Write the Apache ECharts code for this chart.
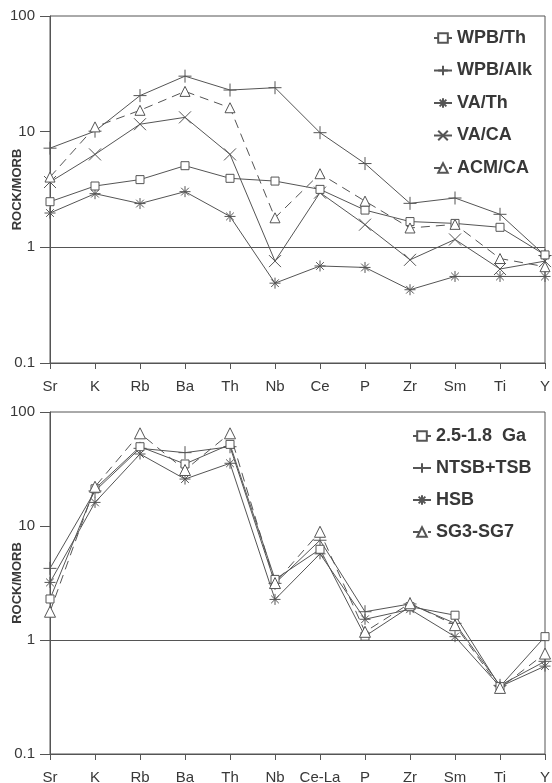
<!DOCTYPE html>
<html>
<head>
<meta charset="utf-8">
<script src="https://cdn.jsdelivr.net/npm/echarts@6/dist/echarts.min.js"></script>
<style>
  html, body { margin: 0; padding: 0; background: #fff; }
  #chart { width: 552px; height: 783px; }
</style>
</head>
<body>
<div id="chart"></div>
<script>
// Element order along each spider diagram (normalised to MORB)
const topElements = ['Sr', 'K', 'Rb', 'Ba', 'Th', 'Nb', 'Ce', 'P', 'Zr', 'Sm', 'Ti', 'Y'];
const bottomElements = ['Sr', 'K', 'Rb', 'Ba', 'Th', 'Nb', 'Ce-La', 'P', 'Zr', 'Sm', 'Ti', 'Y'];
const yTickLabels = ['0.1', '1', '10', '100'];

// Upper panel: reference basalt types
const wpbTh  = [2.48, 3.39, 3.85, 5.08, 3.95, 3.74, 3.17, 2.10, 1.67, 1.61, 1.49, 0.86];
const wpbAlk = [7.2, 10.1, 20.5, 30.2, 22.9, 24.0, 9.8, 5.3, 2.4, 2.67, 1.93, 0.85];
const vaTh   = [1.98, 2.91, 2.39, 3.03, 1.85, 0.49, 0.69, 0.67, 0.43, 0.56, 0.56, 0.56];
const vaCa   = [3.67, 6.36, 11.6, 13.3, 6.36, 0.76, 2.97, 1.57, 0.78, 1.17, 0.65, 0.76];
const acmCa  = [4.05, 11.0, 15.3, 22.3, 16.1, 1.80, 4.33, 2.51, 1.47, 1.58, 0.80, 0.68];

// Lower panel: studied groups
const ga2518  = [2.29, 21.2, 49.6, 35.0, 52.0, 3.40, 6.25, 1.08, 1.96, 1.65, 0.39, 1.07];
const ntsbTsb = [4.25, 20.3, 48.0, 44.0, 49.6, 3.14, 7.5, 1.77, 2.07, 1.40, 0.40, 0.65];
const hsb     = [3.2, 16.1, 42.8, 25.8, 35.5, 2.27, 5.7, 1.52, 1.86, 1.07, 0.39, 0.59];
const sg3sg7  = [1.77, 22.1, 65.0, 31.0, 65.0, 3.16, 8.9, 1.18, 2.10, 1.35, 0.38, 0.76];

const INK = '#555555';
const TEXT = '#383838';
const FONT = 'Liberation Sans, Arial, sans-serif';

// Open-stroke marker paths
const plusPath = 'path://M5,0L5,10M0,5L10,5';
const starPath = 'path://M5,0L5,10M0,5L10,5M1.5,1.5L8.5,8.5M1.5,8.5L8.5,1.5';
const crossPath = 'path://M0,2L10,8M0,8L10,2';

function lineSeries(name, data, idx, symbol, size, dashed, filled) {
  return {
    name: name,
    type: 'line',
    xAxisIndex: idx,
    yAxisIndex: idx,
    data: data,
    symbol: symbol,
    symbolSize: size,
    showAllSymbol: true,
    animation: false,
    lineStyle: { color: INK, width: 1, type: dashed ? [9, 6] : 'solid' },
    itemStyle: { color: filled ? '#fff' : 'rgba(0,0,0,0)', borderColor: INK, borderWidth: 1 },
    emphasis: { disabled: true },
    z: filled ? 3 : 2
  };
}

function refLine(series) {
  series.markLine = {
    silent: true,
    symbol: 'none',
    animation: false,
    label: { show: false },
    lineStyle: { color: INK, width: 1, type: 'solid' },
    data: [{ yAxis: 1 }]
  };
  return series;
}

function xAxisFor(idx, cats) {
  return {
    type: 'category',
    gridIndex: idx,
    data: cats,
    boundaryGap: false,
    axisLine: { lineStyle: { color: INK, width: 1 } },
    axisTick: { show: true, length: 6, alignWithLabel: true, lineStyle: { color: INK } },
    axisLabel: { color: TEXT, fontSize: 15, fontFamily: FONT, margin: 16, interval: 0, hideOverlap: false },
    splitLine: { show: false }
  };
}

function yAxisFor(idx) {
  return {
    type: 'log',
    logBase: 10,
    gridIndex: idx,
    min: 0.1,
    max: 100,
    name: 'ROCK/MORB',
    nameLocation: 'middle',
    nameGap: 26,
    nameMoveOverlap: false,
    nameTextStyle: { color: TEXT, fontSize: 13, fontWeight: 'bold', fontFamily: FONT },
    axisLine: { show: true, lineStyle: { color: INK, width: 1 } },
    axisTick: { show: true, length: 10, lineStyle: { color: INK } },
    minorTick: { show: false },
    axisLabel: {
      color: TEXT, fontSize: 15, fontFamily: FONT, margin: 15,
      formatter: function (v) {
        const i = Math.round(Math.log10(v)) + 1;
        return yTickLabels[i] !== undefined ? yTickLabels[i] : '';
      }
    },
    splitLine: { show: false }
  };
}

const legendText = { color: TEXT, fontSize: 18, fontWeight: 'bold', fontFamily: FONT, lineHeight: 20 };

const option = {
  backgroundColor: '#fff',
  animation: false,
  grid: [
    { left: 50, right: 7, top: 16, height: 347, show: true, borderColor: INK, borderWidth: 1,
      backgroundColor: 'transparent', containLabel: false, outerBoundsMode: 'none' },
    { left: 50, right: 7, top: 412, height: 342, show: true, borderColor: INK, borderWidth: 1,
      backgroundColor: 'transparent', containLabel: false, outerBoundsMode: 'none' }
  ],
  xAxis: [xAxisFor(0, topElements), xAxisFor(1, bottomElements)],
  yAxis: [yAxisFor(0), yAxisFor(1)],
  legend: [
    {
      orient: 'vertical', left: 428, top: 23,
      itemWidth: 18, itemHeight: 12, itemGap: 12.5,
      textStyle: legendText,
      selectedMode: false,
      data: ['WPB/Th', 'WPB/Alk', 'VA/Th', 'VA/CA', 'ACM/CA']
    },
    {
      orient: 'vertical', left: 407, top: 421,
      itemWidth: 18, itemHeight: 12, itemGap: 12,
      textStyle: legendText,
      selectedMode: false,
      data: ['2.5-1.8  Ga', 'NTSB+TSB', 'HSB', 'SG3-SG7']
    }
  ],
  series: [
    refLine(lineSeries('WPB/Th', wpbTh, 0, 'rect', 8, false, true)),
    lineSeries('WPB/Alk', wpbAlk, 0, plusPath, 13, false, false),
    lineSeries('VA/Th', vaTh, 0, starPath, 11, false, false),
    lineSeries('VA/CA', vaCa, 0, crossPath, 12, false, false),
    lineSeries('ACM/CA', acmCa, 0, 'triangle', 10, true, true),

    refLine(lineSeries('2.5-1.8  Ga', ga2518, 1, 'rect', 8, false, true)),
    lineSeries('NTSB+TSB', ntsbTsb, 1, plusPath, 13, false, false),
    lineSeries('HSB', hsb, 1, starPath, 11, false, false),
    lineSeries('SG3-SG7', sg3sg7, 1, 'triangle', 11, true, true)
  ]
};

const chart = echarts.init(document.getElementById('chart'), null, { renderer: 'canvas' });
chart.setOption(option);
</script>
</body>
</html>
